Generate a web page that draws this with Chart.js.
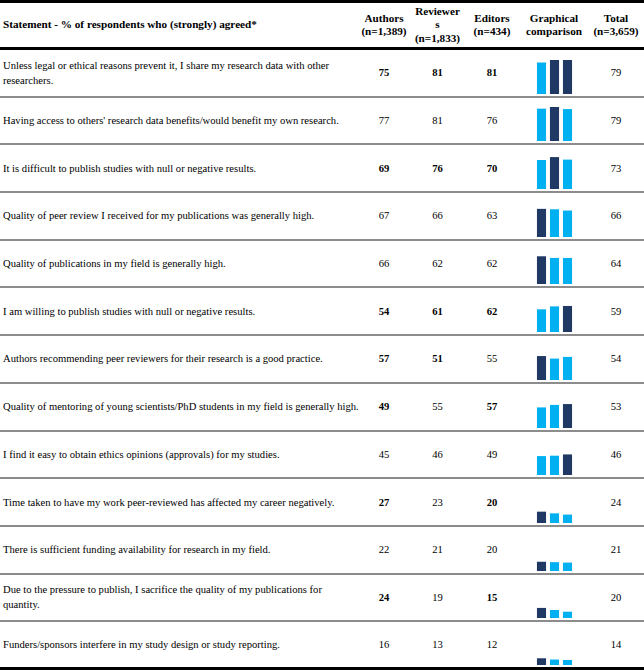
<!DOCTYPE html>
<html>
<head>
<meta charset="utf-8">
<script src="https://cdn.jsdelivr.net/npm/chart.js@4.4.1/dist/chart.umd.min.js"></script>
<style>
  body { margin: 0; background: #fff; font-family: "Liberation Serif", "Times New Roman", Tinos, "DejaVu Serif", serif; color: #000; }
  #tbl { width: 644px; }
  .row { display: grid; grid-template-columns: 357px 54px 53px 56px 68px 56px; }
  .head { height: 44px; border-top: 3px solid #000; border-bottom: 3px solid #000; font-weight: bold; font-size: 11.2px; line-height: 13.5px; }
  .body { height: 45.7px; border-bottom: 2px solid #8c8c8c; font-size: 10.6px; line-height: 15px; }
  .body.last { height: 44.6px; border-bottom: 3px solid #000; }
  .cell { display: flex; align-items: center; justify-content: center; text-align: center; }
  .stmt { justify-content: flex-start; text-align: left; padding-left: 3px; }
  .body .stmt span { flex: none; width: 362px; white-space: pre-line; }
  .graph { position: relative; }
  .graph canvas { position: absolute; left: 15px; bottom: 2px; }
  b { font-weight: bold; }
</style>
</head>
<body>
<div id="tbl">
  <div class="row head">
    <div class="cell stmt">Statement - % of respondents who (strongly) agreed*</div>
    <div class="cell">Authors<br>(n=1,389)</div>
    <div class="cell">Reviewer<br>s<br>(n=1,833)</div>
    <div class="cell">Editors<br>(n=434)</div>
    <div class="cell">Graphical<br>comparison</div>
    <div class="cell">Total<br>(n=3,659)</div>
  </div>
</div>
<script>
// table data
const statements = [
  'Unless legal or ethical reasons prevent it, I share my research data with other researchers.',
  "Having access to others' research data benefits/would benefit my own research.",
  'It is difficult to publish studies with null or negative results.',
  'Quality of peer review I received for my publications was generally high.',
  'Quality of publications in my field is generally high.',
  'I am willing to publish studies with null or negative results.',
  'Authors recommending peer reviewers for their research is a good practice.',
  'Quality of mentoring of young scientists/PhD students in my field is generally high.',
  'I find it easy to obtain ethics opinions (approvals) for my studies.',
  'Time taken to have my work peer-reviewed has affected my career negatively.',
  'There is sufficient funding availability for research in my field.',
  'Due to the pressure to publish, I sacrifice the quality of my publications for\nquantity.',
  'Funders/sponsors interfere in my study design or study reporting.'
];
const authors   = [75, 77, 69, 67, 66, 54, 57, 49, 45, 27, 22, 24, 16];
const reviewers = [81, 81, 76, 66, 62, 61, 51, 55, 46, 23, 21, 19, 13];
const editors   = [81, 76, 70, 63, 62, 62, 55, 57, 49, 20, 20, 15, 12];
const totals    = [79, 79, 73, 66, 64, 59, 54, 53, 46, 24, 21, 20, 14];
// which cells are bold: A = authors, R = reviewers, E = editors
const boldCells = ['ARE', '', 'ARE', '', '', 'ARE', 'AR', 'AE', '', 'AE', '', 'AE', ''];
const groups = ['Authors', 'Reviewers', 'Editors'];

const LIGHT = '#00b0f0';
const DARK = '#1f3864';

const tbl = document.getElementById('tbl');

statements.forEach((text, i) => {
  const row = document.createElement('div');
  row.className = 'row body' + (i === statements.length - 1 ? ' last' : '');
  const vals = [authors[i], reviewers[i], editors[i]];
  const fmt = (v, k) => boldCells[i].includes(k) ? '<b>' + v + '</b>' : v;
  row.innerHTML =
    '<div class="cell stmt"><span>' + text + '</span></div>' +
    '<div class="cell">' + fmt(vals[0], 'A') + '</div>' +
    '<div class="cell">' + fmt(vals[1], 'R') + '</div>' +
    '<div class="cell">' + fmt(vals[2], 'E') + '</div>' +
    '<div class="cell graph"><canvas width="39" height="42"></canvas></div>' +
    '<div class="cell">' + totals[i] + '</div>';
  tbl.appendChild(row);

  // mini bar chart, highest group in dark
  const max = Math.max(...vals);
  new Chart(row.querySelector('canvas'), {
    type: 'bar',
    data: {
      labels: groups,
      datasets: [{
        data: vals,
        backgroundColor: vals.map(v => v === max ? DARK : LIGHT),
        borderWidth: 0,
        barPercentage: 0.7,
        categoryPercentage: 1
      }]
    },
    options: {
      responsive: false,
      animation: false,
      layout: { padding: 0 },
      plugins: { legend: { display: false }, tooltip: { enabled: false } },
      scales: {
        x: { display: false },
        y: { display: false, min: 0, max: 100 }
      }
    }
  });
});
</script>
</body>
</html>
